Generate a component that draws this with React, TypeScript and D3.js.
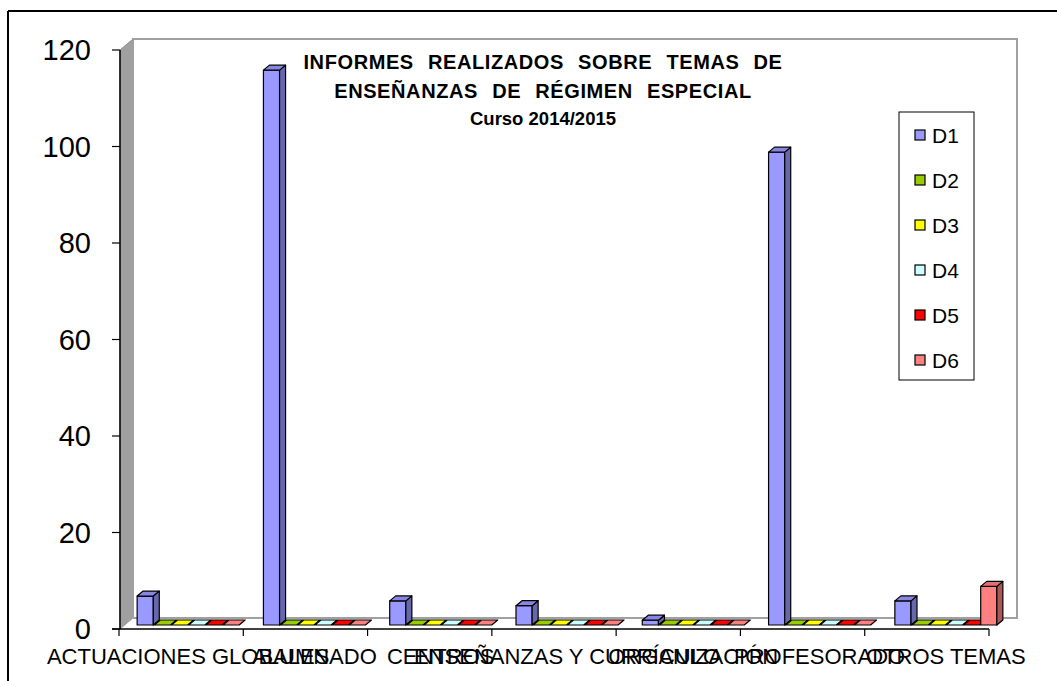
import { scaleLinear, scaleBand, color } from 'd3';

const categories = [
  'ACTUACIONES GLOBALES',
  'ALUMNADO',
  'CENTROS',
  'ENSEÑANZAS Y CURRÍCULO',
  'ORGANIZACIÓN',
  'PROFESORADO',
  'OTROS TEMAS',
];
const seriesNames = ['D1', 'D2', 'D3', 'D4', 'D5', 'D6'];
const seriesColors = ['#9999ff', '#99cc00', '#ffff00', '#ccffff', '#ff0000', '#ff8080'];
const d1 = [6, 115, 5, 4, 1, 98, 5];
const d2 = [0, 0, 0, 0, 0, 0, 0];
const d3v = [0, 0, 0, 0, 0, 0, 0];
const d4 = [0, 0, 0, 0, 0, 0, 0];
const d5 = [0, 0, 0, 0, 0, 0, 0];
const d6 = [0, 0, 0, 0, 0, 0, 8];
const yTicks = [0, 20, 40, 60, 80, 100, 120];
const titleLines = [
  'INFORMES REALIZADOS SOBRE TEMAS DE',
  'ENSEÑANZAS DE RÉGIMEN ESPECIAL',
  'Curso 2014/2015',
];

const values = [d1, d2, d3v, d4, d5, d6];
const font = 'Liberation Sans, Arial, sans-serif';

const W = 1057;
const H = 681;
// 3D depth of walls and of each bar
const wallDx = 13;
const wallDy = -11;
const barDx = 6;
const barDy = -5;

const App = () => {
  // front plane (axes)
  const y = scaleLinear().domain([0, 120]).range([629, 50]);
  const x = scaleBand().domain(categories).range([119, 989]);
  // plane the bars stand in, a little behind the axes
  const yBar = scaleLinear().domain([0, 120]).range([625, 46]);
  const xBar = scaleBand().domain(categories).range([125, 1009]);
  const inner = scaleBand().domain(seriesNames).range([0, 102]).paddingInner(0.06);

  const x0 = 120;
  const xEnd = 989;
  const wallTop = y(120) + wallDy;
  const wallBottom = y(0) + wallDy;
  const wallRight = 1017;

  const bars = [];
  categories.forEach((c, ci) => {
    seriesNames.forEach((s, si) => {
      const v = values[si][ci];
      const bx = (xBar(c) ?? 0) + (xBar.bandwidth() - 102) / 2 + (inner(s) ?? 0);
      const bw = inner.bandwidth();
      const yb = yBar(0);
      const yt = yBar(v);
      const base = color(seriesColors[si]);
      const top = base?.darker(0.35).formatHex();
      const side = base?.darker(1.1).formatHex();
      bars.push(
        <g key={`${c}-${s}`} stroke="#000" strokeWidth={1.2} strokeLinejoin="round">
          {v > 0 && <rect x={bx} y={yt} width={bw} height={yb - yt} fill={seriesColors[si]} />}
          {v > 0 && (
            <polygon
              points={`${bx + bw},${yt} ${bx + bw + barDx},${yt + barDy} ${bx + bw + barDx},${yb + barDy} ${bx + bw},${yb}`}
              fill={side}
            />
          )}
          <polygon
            points={`${bx},${yt} ${bx + bw},${yt} ${bx + bw + barDx},${yt + barDy} ${bx + barDx},${yt + barDy}`}
            fill={v > 0 ? top : seriesColors[si]}
          />
        </g>
      );
    });
  });

  return (
    <svg
      width={W}
      height={H}
      style={{ position: 'absolute', left: 0, top: 0, background: '#fff' }}
      fontFamily={font}
    >
      {/* outer frame */}
      <line x1={8} y1={11} x2={W} y2={11} stroke="#000" strokeWidth={2} />
      <line x1={8} y1={11} x2={8} y2={H} stroke="#000" strokeWidth={2} />

      {/* walls */}
      <polygon
        points={`${x0},${y(120)} ${x0 + wallDx},${wallTop} ${x0 + wallDx},${wallBottom} ${x0},${y(0)}`}
        fill="#a0a0a0"
        stroke="#8c8c8c"
        strokeWidth={1}
      />
      <rect
        x={x0 + wallDx}
        y={wallTop}
        width={wallRight - x0 - wallDx}
        height={wallBottom - wallTop}
        fill="#fff"
        stroke="#a0a0a0"
        strokeWidth={2}
      />
      <polygon
        points={`${x0},${y(0)} ${x0 + wallDx},${wallBottom} ${wallRight},${wallBottom} ${xEnd},${y(0)}`}
        fill="#fff"
      />
      <line x1={x0 + wallDx} y1={wallBottom} x2={wallRight} y2={wallBottom} stroke="#a0a0a0" strokeWidth={2} />
      <line x1={x0} y1={y(0)} x2={x0 + wallDx} y2={wallBottom} stroke="#a0a0a0" strokeWidth={1} />

      {bars}

      {/* y axis */}
      <line x1={x0} y1={y(120)} x2={x0} y2={y(0)} stroke="#000" strokeWidth={1.5} />
      {yTicks.map((t) => (
        <g key={t}>
          <line x1={x0 - 8} y1={y(t)} x2={x0} y2={y(t)} stroke="#000" strokeWidth={1.2} />
          <text x={91} y={y(t)} dy="0.36em" textAnchor="end" fontSize={29} fill="#000">
            {t}
          </text>
        </g>
      ))}

      {/* x axis */}
      <line x1={x0 - 8} y1={y(0)} x2={xEnd} y2={y(0)} stroke="#000" strokeWidth={1.5} />
      {categories.map((c) => (
        <line
          key={`t-${c}`}
          x1={x(c) ?? 0}
          y1={y(0)}
          x2={x(c) ?? 0}
          y2={y(0) + 7}
          stroke="#000"
          strokeWidth={1.2}
        />
      ))}
      <line x1={xEnd} y1={y(0)} x2={xEnd} y2={y(0) + 7} stroke="#000" strokeWidth={1.2} />
      {categories.map((c) => (
        <text
          key={`l-${c}`}
          x={(xBar(c) ?? 0) + xBar.bandwidth() / 2}
          y={664}
          textAnchor="middle"
          fontSize={22}
          fill="#000"
        >
          {c}
        </text>
      ))}

      {/* title */}
      {titleLines.map((l, i) => (
        <text
          key={l}
          x={543}
          y={[69, 98, 125][i]}
          textAnchor="middle"
          fontSize={i < 2 ? 20 : 18.5}
          fontWeight="bold"
          letterSpacing={i < 2 ? 0.6 : 0}
          wordSpacing={i < 2 ? 8 : 0}
          fill="#000"
        >
          {l}
        </text>
      ))}

      {/* legend */}
      <rect x={899} y={112} width={75} height={268} fill="#fff" stroke="#000" strokeWidth={1} />
      {seriesNames.map((s, i) => (
        <g key={`lg-${s}`} transform={`translate(915,${135 + i * 45})`}>
          <rect x={0} y={-5} width={10} height={10} fill={seriesColors[i]} stroke="#000" strokeWidth={1.2} />
          <text x={17} y={0} dy="0.36em" fontSize={21} fill="#000">
            {s}
          </text>
        </g>
      ))}
    </svg>
  );
};

export default App;
